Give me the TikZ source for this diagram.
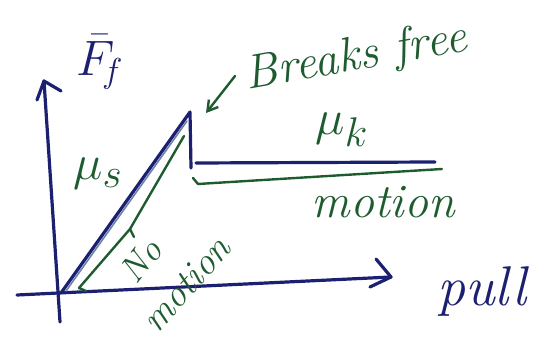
\documentclass[tikz,border=0pt]{standalone}
\usetikzlibrary{arrows.meta}
\definecolor{penblue}{RGB}{28,32,112}
\definecolor{pengreen}{RGB}{30,92,48}
\definecolor{lightpen}{RGB}{110,130,170}
\begin{document}
\begin{tikzpicture}[x=0.5pt,y=-0.5pt,line cap=round,line join=round,
  bluepen/.style={draw=penblue,line width=1.6pt},
  greenpen/.style={draw=pengreen,line width=1.2pt},
  greentext/.style={text=pengreen,font=\itshape,inner sep=0pt},
  bluetext/.style={text=penblue,font=\itshape,inner sep=0pt}]
\useasboundingbox (0,0) rectangle (549,340);
% axes
\coordinate (ybot) at (60,322);
\coordinate (ytop) at (44,81);
\coordinate (xl) at (17,295);
\coordinate (xr) at (391,277);
\draw[bluepen] (ybot) -- (ytop);
\draw[bluepen] (37,100) -- (ytop) -- (61,91);
\draw[bluepen] (xl) -- (xr);
\draw[bluepen] (376,259) -- (xr) -- (370,287);
% static friction rise and kinetic level
\coordinate (o) at (61,293);
\coordinate (peak) at (190,112);
\coordinate (drop) at (191,168);
\coordinate (kl) at (196,163);
\coordinate (kr) at (435,162);
\draw[draw=lightpen,line width=0.8pt] (66,291) -- (187,121);
\draw[bluepen] (o) -- (peak) -- (drop);
\draw[bluepen] (kl) -- (kr);
% green brackets
\coordinate (b1) at (79,288);
\coordinate (b2) at (184,136);
\draw[greenpen] (86,291) -- (b1) -- (130,229) -- (b2);
\draw[greenpen] (130,229) -- (134,237);
\coordinate (g1) at (198,184);
\coordinate (g2) at (442,169);
\draw[greenpen] (193,178) -- (g1) -- (g2);
% labels
\node[bluetext,font=\fontsize{26}{26}\selectfont] (ff) at (100,62) {$\bar{F}_{\!f}$};
\node[greentext,font=\fontsize{24}{24}\selectfont\itshape,rotate=10] (bf) at (356,58) {Breaks free};
\coordinate (ba) at (235,76);
\coordinate (bb) at (206,113);
\draw[greenpen,-{Straight Barb[length=5pt,width=6pt]}] (ba) -- (bb);
\node[greentext,font=\fontsize{28}{28}\selectfont] (ms) at (98,174) {$\mu_s$};
\node[greentext,font=\fontsize{30}{30}\selectfont] (mk) at (342,130) {$\mu_k$};
\node[greentext,font=\fontsize{24}{24}\selectfont\itshape] (mot) at (383,202) {motion};
\node[greentext,font=\fontsize{18}{18}\selectfont\itshape,rotate=52] (no) at (141,261) {No};
\node[greentext,font=\fontsize{19}{19}\selectfont\itshape,rotate=48] (mot2) at (186,284) {motion};
\node[bluetext,font=\fontsize{28}{28}\selectfont\itshape] (pull) at (482,292) {pull};
\end{tikzpicture}
\end{document}
